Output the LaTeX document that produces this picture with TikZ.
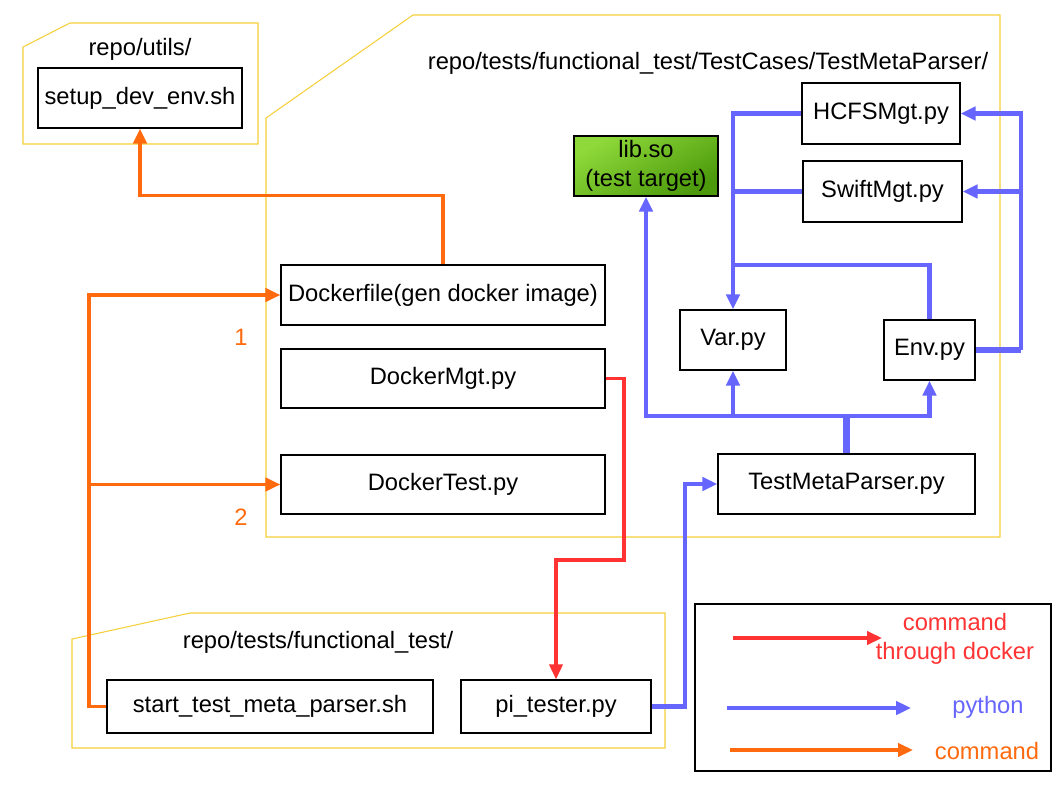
\documentclass[tikz,border=0pt]{standalone}
\usepackage{fontspec}
\setmainfont{Liberation Sans}
\usepackage{xcolor}
\usepackage{tikz}
\usetikzlibrary{arrows.meta, calc}
\definecolor{cmdorange}{HTML}{FF6A0E}
\definecolor{dockred}{HTML}{FF3333}
\definecolor{pyblue}{HTML}{6666FF}
\definecolor{folderyellow}{HTML}{F5CF3A}
\definecolor{libtop}{HTML}{8FD93A}
\definecolor{libbottom}{HTML}{4C9A0C}
\tikzset{
  txt/.style={
    font=\fontsize{13.5}{16.2}\selectfont
  },
  filebox/.style={
    draw=black, line width=0.7pt, fill=white,
    inner sep=0pt, align=center, txt
  },
  folder/.style={
    draw=folderyellow, line width=0.6pt
  },
  cmd/.style={
    -{Triangle[length=8.5pt,width=7.5pt]},
    line width=2pt, color=cmdorange
  },
  dock/.style={
    -{Triangle[length=8.5pt,width=7.5pt]},
    line width=1.8pt, color=dockred
  },
  py/.style={
    -{Triangle[length=8.5pt,width=7.5pt]},
    line width=2.3pt, color=pyblue
  },
  pyline/.style={
    line width=2.3pt, color=pyblue
  }
}

\begin{document}
\begin{tikzpicture}[x=0.02cm, y=-0.02cm]
  \useasboundingbox (0,0) rectangle (1058,794);

  % Folders
  \draw[folder] (23,47) -- (70,23) -- (258,23) -- (258,144) -- (23,144) -- cycle;
  \draw[folder] (413,15) -- (1000,15) -- (1000,537) -- (266,537) -- (266,118) -- cycle;
  \draw[folder] (72,639) -- (190,613) -- (665,613) -- (665,748) -- (72,748) -- cycle;
  \node[txt] (utilsdir) at (140,49) {repo/utils/};
  \node[txt] (casedir) at (708,63) {repo/tests/functional\_test/TestCases/TestMetaParser/};
  \node[txt] (testdir) at (318,642) {repo/tests/functional\_test/};

  % Files
  \node[filebox, minimum width=4.08cm, minimum height=1.2cm] (setup) at (140,98) {setup\_dev\_env.sh};
  \node[filebox, minimum width=6.48cm, minimum height=1.2cm] (dockerfile) at (443,295) {Dockerfile(gen docker image)};
  \node[filebox, minimum width=6.48cm, minimum height=1.18cm] (dockermgt) at (443,378.5) {DockerMgt.py};
  \node[filebox, minimum width=6.48cm, minimum height=1.18cm] (dockertest) at (443,484.5) {DockerTest.py};
  \node[filebox, minimum width=2.88cm, minimum height=1.2cm, top color=libtop, bottom color=libbottom,
        shading angle=30, text=black] (libso) at (646,166) {lib.so\\(test target)};
  \node[filebox, minimum width=3.16cm, minimum height=1.22cm] (hcfs) at (881,113.5) {HCFSMgt.py};
  \node[filebox, minimum width=3.18cm, minimum height=1.22cm] (swift) at (882.5,191.5) {SwiftMgt.py};
  \node[filebox, minimum width=2.12cm, minimum height=1.2cm] (var) at (733,340) {Var.py};
  \node[filebox, minimum width=1.82cm, minimum height=1.2cm] (env) at (929.5,350) {Env.py};
  \node[filebox, minimum width=5.14cm, minimum height=1.2cm] (tmp) at (846.5,484) {TestMetaParser.py};
  \node[filebox, minimum width=6.52cm, minimum height=1.06cm] (start) at (270,706.5) {start\_test\_meta\_parser.sh};
  \node[filebox, minimum width=3.8cm, minimum height=1.06cm] (pitester) at (556,706.5) {pi\_tester.py};

  % Commands
  \coordinate (trunk) at (89,295);
  \coordinate (split) at (89,484.5);
  \draw[cmd] (start.west) -| (trunk) -- (dockerfile.west);
  \draw[cmd] (split) -- (dockertest.west);
  \draw[cmd] (dockerfile.north) -- ++(0,-69) -| (setup.south);
  \node[txt, text=cmdorange] (first) at (241,337) {1};
  \node[txt, text=cmdorange] (second) at (241,517) {2};

  % Through docker
  \coordinate (rbend) at (624,560);
  \draw[dock] (dockermgt.east) -| (rbend) -| (pitester.north);

  % Python
  \draw[py] (pitester.east) -- ++(33,0) |- (tmp.west);
  \coordinate (hub) at (846.5,416);
  \draw[pyline, line width=3.6pt] (tmp.north) -- (hub);
  \draw[py] (hub) -| (libso.south);
  \draw[py] (hub) -| (var.south);
  \draw[py] (hub) -| (env.south);
  \draw[pyline, line width=3.6pt] (env.east) -- ++(45,0);
  \draw[py] (env.east) ++(45,0) |- (hcfs.east);
  \draw[py] (env.east) ++(45,0) |- (swift.east);
  \draw[py] (hcfs.west) -| (var.north);
  \draw[pyline] (swift.west) -- (var.north |- swift.west);
  \draw[pyline] (env.north) |- (var.north |- 0,265);

  % Legend
  \draw[line width=0.7pt] (695,604) rectangle (1051,771);
  \coordinate (redfrom) at (733,638);
  \coordinate (redto) at (882,638);
  \coordinate (bluefrom) at (727,708);
  \coordinate (blueto) at (911,708);
  \coordinate (orangefrom) at (730,750);
  \coordinate (orangeto) at (913,750);
  \draw[dock] (redfrom) -- (redto);
  \draw[py] (bluefrom) -- (blueto);
  \draw[cmd] (orangefrom) -- (orangeto);
  \node[txt, text=dockred, align=center] (redtext) at (955,639) {command\\through docker};
  \node[txt, text=pyblue] (bluetext) at (988,707) {python};
  \node[txt, text=cmdorange] (orangetext) at (987,751) {command};
\end{tikzpicture}
\end{document}
